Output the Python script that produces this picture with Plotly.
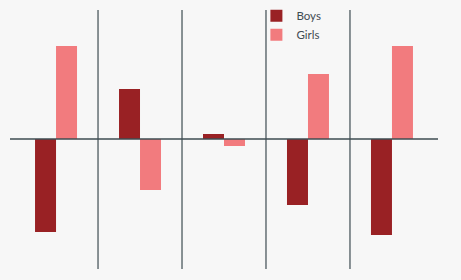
import plotly.graph_objects as go

categories = ["A", "B", "C", "D", "E"]
boys = [-93, 50, 5, -66, -96]
girls = [93, -51, -7, 65, 93]

BOYS_COLOR = "#992124"
GIRLS_COLOR = "#f27b7e"
LINE_COLOR = "#3e4c52"
BG = "#f7f7f7"

fig = go.Figure()
fig.add_trace(go.Bar(x=list(range(len(categories))), y=boys, name="Boys",
                     marker=dict(color=BOYS_COLOR, line=dict(width=0))))
fig.add_trace(go.Bar(x=list(range(len(categories))), y=girls, name="Girls",
                     marker=dict(color=GIRLS_COLOR, line=dict(width=0))))

for i in range(len(categories) - 1):
    fig.add_shape(type="line", xref="x", yref="y domain", x0=i + 0.5, x1=i + 0.5,
                  y0=0, y1=1, line=dict(color=LINE_COLOR, width=1.2), layer="above")
fig.add_shape(type="line", xref="x domain", yref="y", x0=0, x1=1, y0=0, y1=0,
              line=dict(color=LINE_COLOR, width=1.3), layer="above")

fig.update_layout(
    width=461, height=280,
    margin=dict(l=10, r=23, t=0, b=11),
    paper_bgcolor=BG, plot_bgcolor=BG,
    barmode="group", bargap=0.5, bargroupgap=0,
    xaxis=dict(range=[-0.548, 4.548], showgrid=False, zeroline=False,
               showticklabels=False, ticks="", fixedrange=True),
    yaxis=dict(range=[-130, 129], domain=[0, 0.9628], showgrid=False, zeroline=False,
               showticklabels=False, ticks="", fixedrange=True),
    showlegend=True,
    legend=dict(x=0.5757, y=0.995, xanchor="left", yanchor="top",
                bgcolor="rgba(0,0,0,0)", font=dict(family="Lato, sans-serif", size=11.5, color="#3f4b52"),
                tracegroupgap=0, itemwidth=30),
    font=dict(family="Lato, sans-serif"),
)

fig.write_html("out.html")
